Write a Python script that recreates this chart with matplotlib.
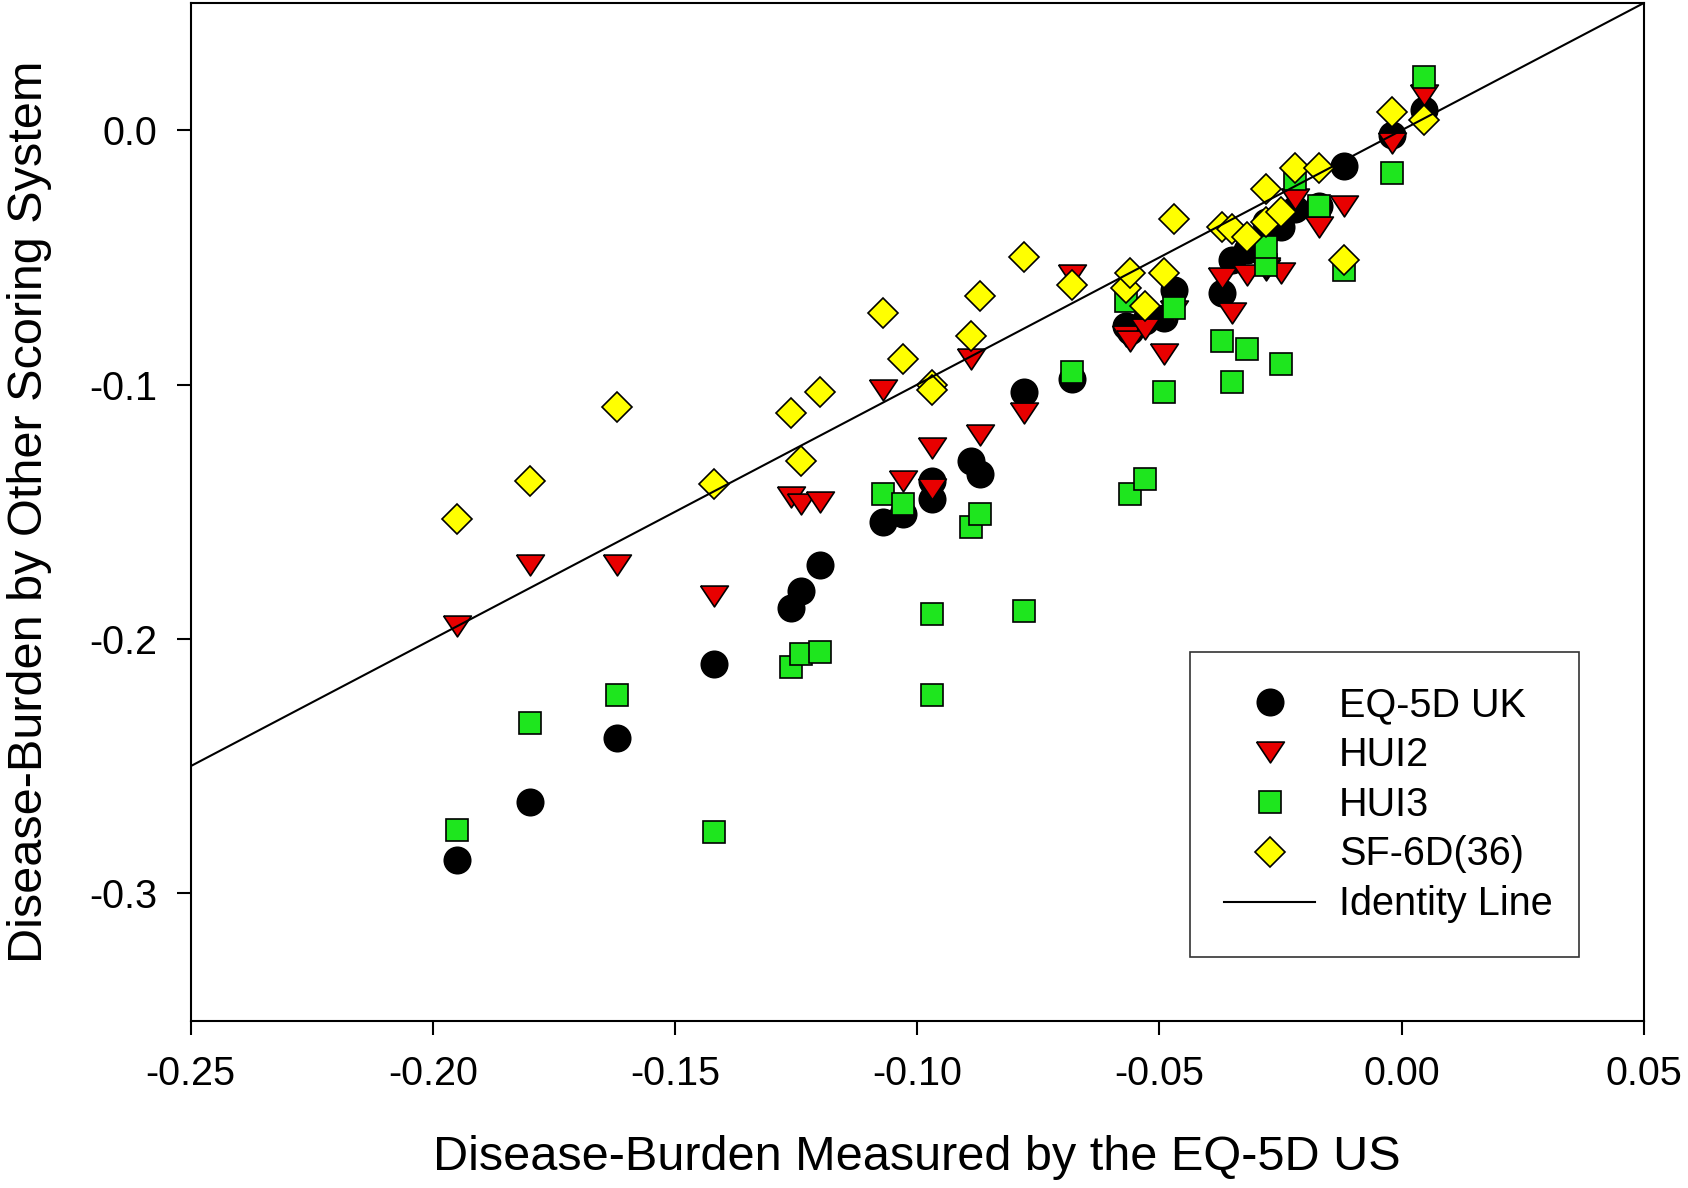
import matplotlib
matplotlib.use("Agg")
import matplotlib.pyplot as plt
import numpy as np

plt.rcParams['font.family'] = ['Liberation Sans', 'DejaVu Sans']
plt.rcParams['axes.unicode_minus'] = False

# disease burden by EQ-5D US (x) and by the other scoring systems (y)
eq5d_us = [-0.195, -0.180, -0.162, -0.142, -0.126, -0.124, -0.120, -0.107,
           -0.103, -0.097, -0.097, -0.089, -0.087, -0.078, -0.068, -0.057,
           -0.056, -0.053, -0.049, -0.047, -0.037, -0.035, -0.032, -0.028,
           -0.028, -0.025, -0.022, -0.017, -0.012, -0.002, 0.0045]
eq5d_uk = [-0.287, -0.264, -0.239, -0.210, -0.188, -0.181, -0.171, -0.154,
           -0.151, -0.145, -0.138, -0.130, -0.135, -0.103, -0.098, -0.077,
           -0.079, -0.075, -0.074, -0.063, -0.064, -0.051, -0.047, -0.040,
           -0.036, -0.038, -0.031, -0.030, -0.014, -0.002, 0.008]
hui2 = [-0.195, -0.171, -0.171, -0.183, -0.144, -0.147, -0.146, -0.102,
        -0.138, -0.125, -0.141, -0.090, -0.120, -0.111, -0.057, -0.081,
        -0.083, -0.078, -0.088, -0.071, -0.058, -0.072, -0.057, -0.055,
        -0.054, -0.056, -0.027, -0.038, -0.030, -0.005, 0.014]
hui3 = [-0.275, -0.233, -0.222, -0.276, -0.211, -0.206, -0.205, -0.143,
        -0.147, -0.190, -0.222, -0.156, -0.151, -0.189, -0.095, -0.067,
        -0.143, -0.137, -0.103, -0.070, -0.083, -0.099, -0.086, -0.053,
        -0.046, -0.092, -0.019, -0.030, -0.055, -0.017, 0.021]
sf6d = [-0.153, -0.138, -0.109, -0.139, -0.111, -0.130, -0.103, -0.072,
        -0.090, -0.100, -0.102, -0.081, -0.065, -0.050, -0.061, -0.062,
        -0.056, -0.069, -0.056, -0.035, -0.038, -0.039, -0.042, -0.036,
        -0.023, -0.032, -0.015, -0.015, -0.051, 0.007, 0.004]

xticks = [-0.25, -0.20, -0.15, -0.10, -0.05, 0.00, 0.05]
yticks = [-0.3, -0.2, -0.1, 0.0]

fig = plt.figure(figsize=(16.88, 11.88), dpi=100)
ax = fig.add_axes([0.1129, 0.1409, 0.8610, 0.8566])

# wide, flat triangle like the original
tri = [(-1, 0.75), (1, 0.75), (0, -0.75), (-1, 0.75)]

ax.plot(eq5d_us, eq5d_uk, ls='none', marker='o', ms=19, mfc='black',
        mec='black', mew=1.2, label='EQ-5D UK')
ax.plot(eq5d_us, hui2, ls='none', marker=tri, ms=20, mfc='#e80000',
        mec='black', mew=1.2, label='HUI2')
ax.plot(eq5d_us, hui3, ls='none', marker='s', ms=16.5, mfc='#1ee61e',
        mec='black', mew=1.2, label='HUI3')
ax.plot(eq5d_us, sf6d, ls='none', marker='D', ms=15.5, mfc='#ffff00',
        mec='black', mew=1.2, label='SF-6D(36)')

ident = np.array([-0.25, 0.05])
ax.plot(ident, ident, color='black', lw=1.5, label='Identity Line', zorder=5)

ax.set_xlim(-0.25, 0.05)
ax.set_ylim(-0.35, 0.05)
ax.set_xticks(xticks)
ax.set_xticklabels(['%.2f' % v for v in xticks])
ax.set_yticks(yticks)
ax.set_yticklabels(['%.1f' % v for v in yticks])
ax.tick_params(direction='out', length=10, width=1.5, labelsize=28.5)
ax.tick_params(axis='x', pad=15)
ax.tick_params(axis='y', pad=14)
for s in ax.spines.values():
    s.set_linewidth(1.5)

ax.set_xlabel('Disease-Burden Measured by the EQ-5D US', fontsize=35, labelpad=30)
ax.set_ylabel('Disease-Burden by Other Scoring System', fontsize=35, labelpad=27)

leg = ax.legend(loc='lower left', bbox_to_anchor=(0.688, 0.0625, 0.267, 0.2975),
                mode='expand', borderaxespad=0, fontsize=28.5, frameon=True,
                fancybox=False, handlelength=2.3, handletextpad=0.6,
                borderpad=0.85, labelspacing=0.3, markerscale=1.0)
leg.get_frame().set_edgecolor('black')
leg.get_frame().set_linewidth(1.2)

plt.savefig('out.png', dpi=100)
